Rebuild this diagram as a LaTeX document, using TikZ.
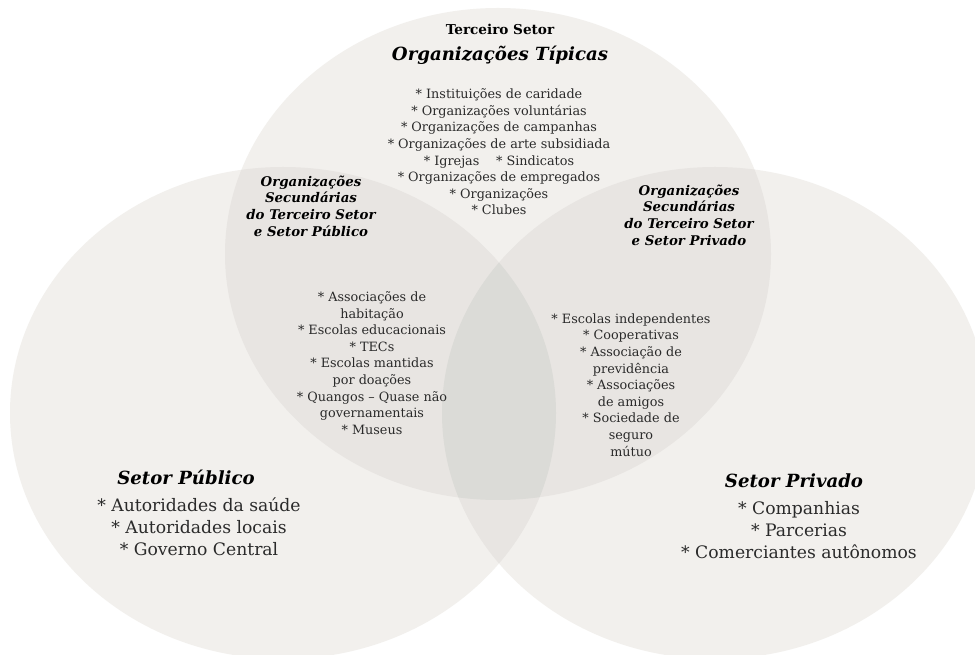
\documentclass[tikz,border=0pt]{standalone}
\usepackage{fontspec}
\setmainfont{DejaVu Serif}
\usepackage{tikz}
\usetikzlibrary{calc}
\definecolor{umsetor}{HTML}{F2F0ED}
\definecolor{doissetores}{HTML}{E8E5E2}
\definecolor{tressetores}{HTML}{DBDBD7}
\definecolor{texto}{HTML}{2A2A2A}
\tikzset{
lista/.style={align=center, inner sep=0pt, text=texto, font=\fontsize{9.6}{12.45}\selectfont},
titulo/.style={align=center, inner sep=0pt, text=black, font=\fontsize{10}{12.45}\selectfont\bfseries\itshape},
setor/.style={align=center, inner sep=0pt, text=texto, font=\fontsize{12.9}{16.4}\selectfont},
setortitulo/.style={inner sep=0pt, text=black, font=\fontsize{13.6}{16}\selectfont\bfseries\itshape}
}

\begin{document}
\begin{tikzpicture}[x=0.75pt,y=-0.75pt]
\fill[white] (0,0) rectangle (975,655);
\useasboundingbox (0,0) rectangle (975,655);

% tres setores
\def\terceiro{(498,254) ellipse [x radius=273, y radius=246]}
\def\publico{(283,413) ellipse [x radius=273, y radius=246]}
\def\privado{(715,413) ellipse [x radius=273, y radius=246]}
\fill[umsetor] \terceiro;
\fill[umsetor] \publico;
\fill[umsetor] \privado;
\begin{scope}
\clip \terceiro;
\fill[doissetores] \publico;
\fill[doissetores] \privado;
\end{scope}
\begin{scope}
\clip \publico;
\fill[doissetores] \privado;
\end{scope}
\begin{scope}
\clip \terceiro;
\clip \publico;
\fill[tressetores] \privado;
\end{scope}

% terceiro setor
\node[inner sep=0pt, font=\fontsize{10.2}{12}\selectfont\bfseries] (ts) at (500,29) {Terceiro Setor};
\node[setortitulo] (tip) at (500,55) {Organizações Típicas};
\node[lista] (tiplista) at (499,152) {* Instituições de caridade\\
* Organizações voluntárias\\
* Organizações de campanhas\\
* Organizações de arte subsidiada\\
* Igrejas\hspace{1.3em}* Sindicatos\\
* Organizações de empregados\\
* Organizações\\
* Clubes};

% secundarias
\node[titulo] (secpub) at (311,206) {Organizações\\ Secundárias\\ do Terceiro Setor\\ e Setor Público};
\node[titulo] (secpriv) at (689,215) {Organizações\\ Secundárias\\ do Terceiro Setor\\ e Setor Privado};
\node[lista] (secpublista) at (372,363) {* Associações de\\ habitação\\
* Escolas educacionais\\
* TECs\\
* Escolas mantidas\\ por doações\\
* Quangos – Quase não\\ governamentais\\
* Museus};
\node[lista] (secprivlista) at (631,385) {* Escolas independentes\\
* Cooperativas\\
* Associação de\\ previdência\\
* Associações\\ de amigos\\
* Sociedade de\\ seguro\\ mútuo};

% setor publico e privado
\node[setortitulo] (pub) at (186,477) {Setor Público};
\node[setor] (publista) at (199,527) {* Autoridades da saúde\\ * Autoridades locais\\ * Governo Central};
\node[setortitulo] (priv) at (794,481) {Setor Privado};
\node[setor] (privlista) at (799,530) {* Companhias\\ * Parcerias\\ * Comerciantes autônomos};
\end{tikzpicture}
\end{document}
